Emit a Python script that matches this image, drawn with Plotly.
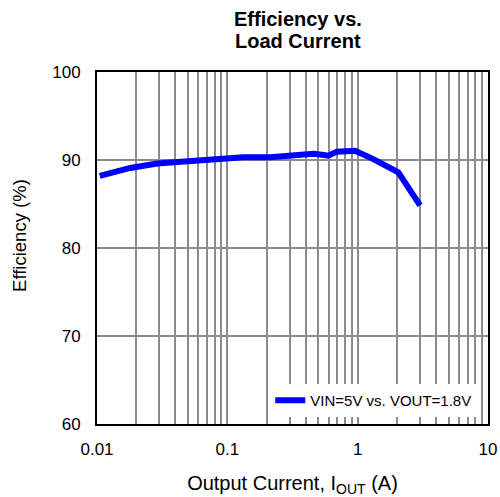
import plotly.graph_objects as go

# Efficiency curve, VIN=5V, VOUT=1.8V
current_a = [0.0105, 0.018, 0.029, 0.041, 0.055, 0.078, 0.096, 0.132, 0.213,
             0.269, 0.361, 0.457, 0.53, 0.596, 0.692, 0.955, 1.32, 2.05, 3.01]
efficiency_pct = [88.2, 89.1, 89.6, 89.75, 90.0, 90.0, 90.15, 90.3, 90.3,
                  90.42, 90.56, 90.7, 90.6, 90.5, 90.95, 91.05, 90.1, 88.6, 84.85]
series_name = "VIN=5V vs. VOUT=1.8V"
title_lines = ["Efficiency vs.", "Load Current"]

x_major = [0.01, 0.1, 1, 10]
x_grid = []
for dec in [0.01, 0.1, 1]:
    for m in range(1, 10):
        x_grid.append(dec * m)
x_grid.append(10)
x_text = [("%g" % v) if v in x_major else "" for v in x_grid]

y_ticks = [60, 70, 80, 90, 100]

font_family = "Liberation Sans, Arial, sans-serif"

fig = go.Figure()
fig.add_trace(go.Scatter(
    x=current_a, y=efficiency_pct, mode="lines", name=series_name,
    line=dict(color="#0000FF", width=6),
))

# two-line bold title with tight line spacing
for line_text, ypos in zip(title_lines, [1.150, 1.088]):
    fig.add_annotation(
        text="<b>%s</b>" % line_text, xref="paper", yref="paper",
        x=0.513, y=ypos, xanchor="center", yanchor="middle", showarrow=False,
        font=dict(size=20),
    )

# y-axis title
fig.add_annotation(
    text="Efficiency (%)", xref="paper", yref="paper",
    x=-0.197, y=0.537, xanchor="center", yanchor="middle", showarrow=False,
    textangle=-90, font=dict(size=18.5),
)

fig.update_layout(
    width=500, height=497,
    margin=dict(l=97, r=12, t=72, b=73),
    paper_bgcolor="white", plot_bgcolor="white",
    font=dict(family=font_family, size=17, color="black"),
    showlegend=True,
    legend=dict(x=0.97, y=0.02, xanchor="right", yanchor="bottom",
                bgcolor="white", borderwidth=0, font=dict(size=15),
                itemwidth=30),
    xaxis=dict(
        type="log", range=[-2, 1], automargin=False,
        tickvals=x_grid, ticktext=x_text,
        ticks="outside", ticklen=9, tickcolor="rgba(0,0,0,0)",
        showgrid=True, gridcolor="#8c8c8c", gridwidth=2,
        showline=True, linecolor="black", linewidth=2, mirror=True,
        zeroline=False,
        title=dict(text="Output Current, I<sub>OUT</sub> (A)", standoff=26),
    ),
    yaxis=dict(
        range=[60, 100], tickvals=y_ticks, automargin=False,
        ticks="outside", ticklen=11, tickcolor="rgba(0,0,0,0)",
        showgrid=True, gridcolor="#8c8c8c", gridwidth=2,
        showline=True, linecolor="black", linewidth=2, mirror=True,
        zeroline=False,
    ),
)

fig.write_html("out.html")
